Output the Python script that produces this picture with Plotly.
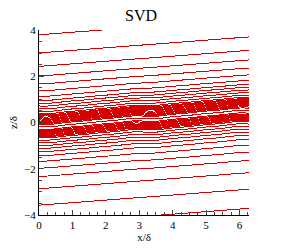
import numpy as np
import plotly.graph_objects as go

# ---- data / parameters ----
x_range = [0, 2 * np.pi]
z_range = [-4, 4]
x_ticks = [0, 1, 2, 3, 4, 5, 6]
z_ticks = [-4, -2, 0, 2, 4]
tilt = [0.11]                 # mean dz/dx of the contour lines
# spacing between neighbouring contour lines (z/δ) at the left edge
spacing_z = [-5.0, -3.6, -2.8, -2.2, -1.6, -1.3, -1.0, -0.7, -0.62, -0.3, -0.24,
             -0.12, -0.06, 0.35, 0.45, 0.9, 1.1, 1.5, 2.2, 2.8, 3.6, 5.0]
spacing_dz = [0.9, 0.8, 0.62, 0.36, 0.26, 0.16, 0.12, 0.11, 0.045, 0.045, 0.13,
              0.13, 0.045, 0.045, 0.11, 0.12, 0.2, 0.3, 0.4, 0.62, 0.85, 0.9]
saw_rise = [0.1]              # rise of the π-periodic saw-tooth wave in the core
saw_env = [1.4]

x = np.linspace(0, 2 * np.pi, 320)
z = np.linspace(-4.2, 4.2, 700)
X, Z = np.meshgrid(x, z)

theta = 2 * X - np.pi
saw = sum((saw_rise[0] / np.pi) * (-1) ** (k + 1) * np.sin(k * theta) / k for k in range(1, 4))
U = Z - tilt[0] * X - np.exp(-(Z / saw_env[0]) ** 2) * saw

ug = np.linspace(-6, 6, 6001)
dens = 1.0 / np.interp(ug, spacing_z, spacing_dz)
G = np.concatenate([[0], np.cumsum(0.5 * (dens[1:] + dens[:-1]) * np.diff(ug))])
G = G - np.interp(0.0, ug, G)
F = np.interp(U, ug, G)

red = "rgb(215,0,0)"
fig = go.Figure(go.Contour(
    x=x, y=z, z=F,
    contours=dict(coloring="lines", start=-80.5, end=80.5, size=1.0),
    colorscale=[[0, red], [1, red]],
    line=dict(width=1),
    showscale=False, hoverinfo="skip",
))

font = dict(family="Liberation Serif", size=11, color="black")
fig.update_layout(
    width=282, height=251,
    margin=dict(l=36, r=33, t=30, b=29),
    paper_bgcolor="white", plot_bgcolor="white",
    showlegend=False,
    font=font,
    title=dict(text="SVD", x=0.5, xanchor="center", y=0.94, yanchor="middle",
               font=dict(family="Liberation Serif", size=16, color="black")),
    xaxis=dict(range=x_range, tickvals=x_ticks, ticks="inside", ticklen=5,
               showline=True, linecolor="black", linewidth=1, showgrid=False,
               zeroline=False, tickfont=font,
               minor=dict(dtick=0.25, ticks="inside", ticklen=3, showgrid=False),
               title=dict(text="x/δ", standoff=0, font=font)),
    yaxis=dict(range=z_range, tickvals=z_ticks, ticks="inside", ticklen=5,
               showline=True, linecolor="black", linewidth=1, showgrid=False,
               zeroline=False, tickfont=font,
               minor=dict(dtick=0.5, ticks="inside", ticklen=3, showgrid=False),
               title=dict(text="z/δ", standoff=4, font=font)),
)
crisp = ("document.querySelectorAll('g.contourlevel path').forEach("
         "function(p){p.style.shapeRendering='crispEdges';});")
fig.write_html("out.html", post_script=crisp)
